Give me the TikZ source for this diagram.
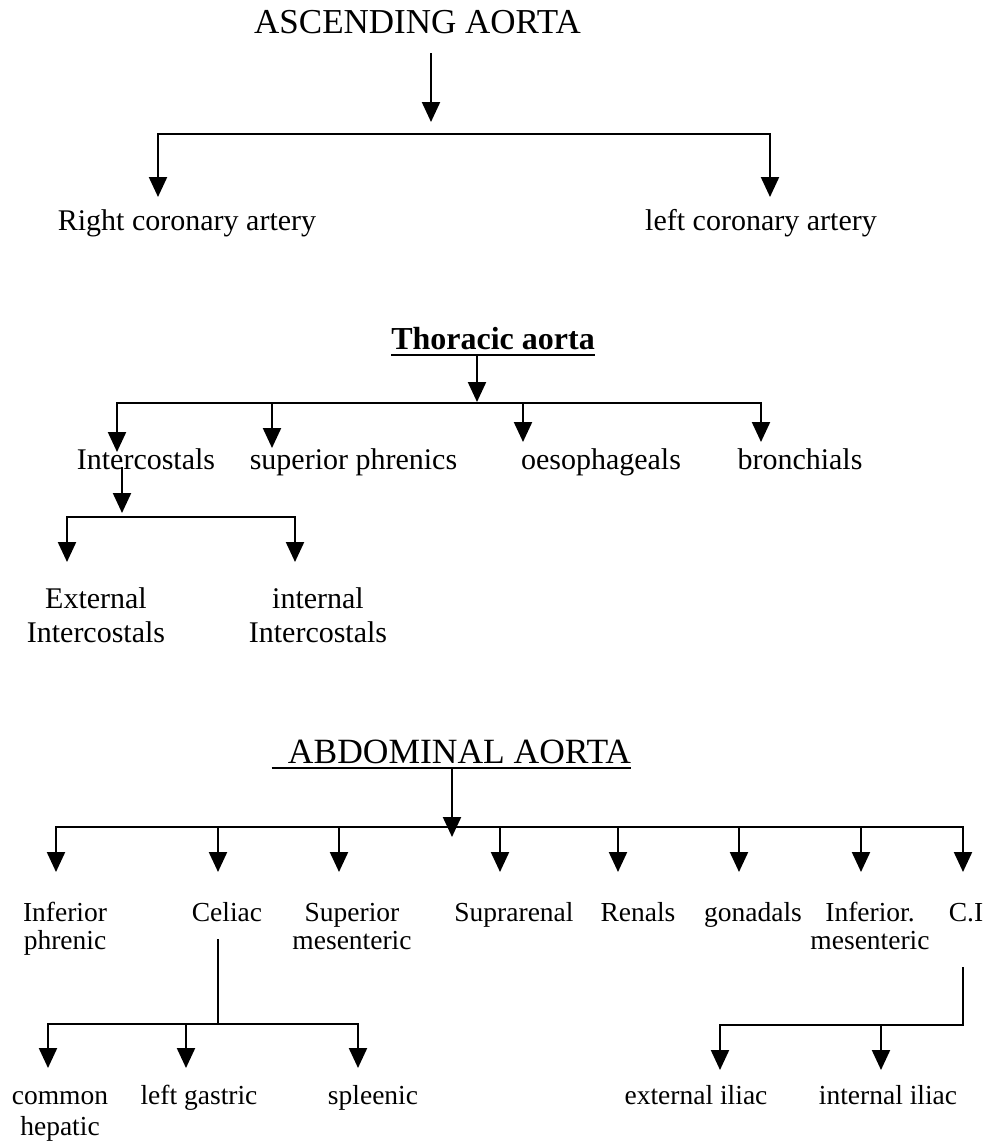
\documentclass[tikz,border=0pt]{standalone}
\usepackage{fontspec}
\setmainfont{Liberation Serif}
\usetikzlibrary{arrows.meta,calc}
\begin{document}
\begin{tikzpicture}[x=1pt,y=-1pt,
  lbl/.style={inner sep=0pt, anchor=base, align=center, font=\fontsize{30}{30}\selectfont},
  albl/.style={inner sep=0pt, anchor=base, align=center, font=\fontsize{27.5}{28}\selectfont},
  ttl/.style={inner sep=0pt, anchor=base, font=\fontsize{35}{40}\selectfont},
  boldttl/.style={inner sep=0pt, anchor=base, font=\fontsize{32}{36}\selectfont\bfseries},
  conn/.style={line width=2.2pt, line cap=rect},
  ulin/.style={line width=1.8pt},
  arr/.style={line width=2.2pt, -{Triangle[width=18pt,length=20pt]}},
  barr/.style={line width=2.2pt, {Triangle[width=18pt,length=20pt]}-{Triangle[width=18pt,length=20pt]}}]
\useasboundingbox (0,0) rectangle (994,1143);
\clip (0,0) rectangle (994,1143);
\fill[white] (0,0) rectangle (994,1143);

% ---------- Ascending aorta ----------
\node[ttl] (asc) at (417.5,33) {ASCENDING AORTA};
\coordinate (ascS) at (431,53);
\coordinate (ascJ) at (431,122);
\coordinate (b1L) at (158,134);
\coordinate (b1R) at (770,134);
\coordinate (rcaT) at (158,197);
\coordinate (lcaT) at (770,197);
\node[lbl] (rca) at (187,230) {Right coronary artery};
\node[lbl] (lca) at (761,230) {left coronary artery};
\draw[arr] (ascS) -- (ascJ);
\draw[barr] (rcaT) -- (b1L) -- (b1R) -- (lcaT);

% ---------- Thoracic aorta ----------
\node[boldttl] (tho) at (493,349) {Thoracic aorta};
\draw[ulin] ($(tho.base west)+(0,6)$) -- ($(tho.base east)+(0,6)$);
\coordinate (thoS) at (477,356);
\coordinate (thoJ) at (477,402);
\draw[arr] (thoS) -- (thoJ);
\coordinate (b2L) at (117,403);
\coordinate (b2b) at (272,403);
\coordinate (b2c) at (523,403);
\coordinate (b2R) at (761,403);
\coordinate (icT) at (117,452);
\coordinate (spT) at (272,448);
\coordinate (oeT) at (523,442);
\coordinate (brT) at (761,442);
\draw[conn] (b2L) -- (b2R);
\draw[arr] (b2L) -- (icT);
\draw[arr] (b2b) -- (spT);
\draw[arr] (b2c) -- (oeT);
\draw[arr] (b2R) -- (brT);
\node[lbl] (ic) at (146,469) {Intercostals};
\node[lbl] (sp) at (353.5,469) {superior phrenics};
\node[lbl] (oe) at (601,469) {oesophageals};
\node[lbl] (br) at (800,469) {bronchials};
\coordinate (icS) at (122,467);
\coordinate (icJ) at (122,513);
\draw[arr] (icS) -- (icJ);
\coordinate (b3L) at (67,517);
\coordinate (b3R) at (295,517);
\coordinate (eiT) at (67,562);
\coordinate (iiT) at (295,562);
\draw[barr] (eiT) -- (b3L) -- (b3R) -- (iiT);
\node[lbl, font=\fontsize{30}{34}\selectfont] (eic) at (96,642) {External\\Intercostals};
\node[lbl, font=\fontsize{30}{34}\selectfont] (iic) at (318,642) {internal\\Intercostals};

% ---------- Abdominal aorta ----------
\node[ttl, font=\fontsize{35.5}{40}\selectfont] (abd) at (459.5,763) {ABDOMINAL AORTA};
\draw[ulin] ($(abd.base west)+(-16,5)$) -- ($(abd.base east)+(0,5)$);
\coordinate (abdS) at (452,769);
\coordinate (abdJ) at (452,837);
\draw[arr] (abdS) -- (abdJ);
\coordinate (b4a) at (56,827);
\coordinate (b4b) at (218,827);
\coordinate (b4c) at (339,827);
\coordinate (b4d) at (500,827);
\coordinate (b4e) at (618,827);
\coordinate (b4f) at (739,827);
\coordinate (b4g) at (861,827);
\coordinate (b4h) at (963,827);
\coordinate (t4a) at (56,872);
\coordinate (t4b) at (218,872);
\coordinate (t4c) at (339,872);
\coordinate (t4d) at (500,872);
\coordinate (t4e) at (618,872);
\coordinate (t4f) at (739,872);
\coordinate (t4g) at (861,872);
\coordinate (t4h) at (963,872);
\draw[conn] (b4a) -- (b4h);
\draw[arr] (b4a) -- (t4a);
\draw[arr] (b4b) -- (t4b);
\draw[arr] (b4c) -- (t4c);
\draw[arr] (b4d) -- (t4d);
\draw[arr] (b4e) -- (t4e);
\draw[arr] (b4f) -- (t4f);
\draw[arr] (b4g) -- (t4g);
\draw[arr] (b4h) -- (t4h);
\node[albl] (iph) at (65,949) {Inferior\\phrenic};
\node[albl] (cel) at (227,921) {Celiac};
\node[albl] (smes) at (352,949) {Superior\\mesenteric};
\node[albl] (supr) at (514,921) {Suprarenal};
\node[albl] (ren) at (638,921) {Renals};
\node[albl] (gon) at (753,921) {gonadals};
\node[albl] (imes) at (870,949) {Inferior.\\mesenteric};
\node[albl] (ci) at (966,921) {C.I};

% celiac branches
\coordinate (celS) at (218,940);
\coordinate (celJ) at (218,1024);
\coordinate (b5L) at (48,1024);
\coordinate (b5b) at (186,1024);
\coordinate (b5R) at (358,1024);
\coordinate (chT) at (48,1068);
\coordinate (lgT) at (186,1068);
\coordinate (slT) at (358,1068);
\draw[conn] (celS) -- (celJ);
\draw[barr] (chT) -- (b5L) -- (b5R) -- (slT);
\draw[arr] (b5b) -- (lgT);
\node[albl, font=\fontsize{27.5}{31}\selectfont] (ch) at (60,1135) {common\\hepatic};
\node[albl] (lg) at (199,1104) {left gastric};
\node[albl] (sl) at (373,1104) {spleenic};

% common iliac branches
\coordinate (ciS) at (963,968);
\coordinate (ciJ) at (963,1025);
\coordinate (b6L) at (720,1025);
\coordinate (b6b) at (881,1025);
\coordinate (eilT) at (720,1070);
\coordinate (iilT) at (881,1070);
\draw[arr] (ciJ) -- (b6L) -- (eilT);
\draw[conn] (ciS) -- (ciJ);
\draw[arr] (b6b) -- (iilT);
\node[albl] (eil) at (696,1104) {external iliac};
\node[albl] (iil) at (888,1104) {internal iliac};
\end{tikzpicture}
\end{document}
